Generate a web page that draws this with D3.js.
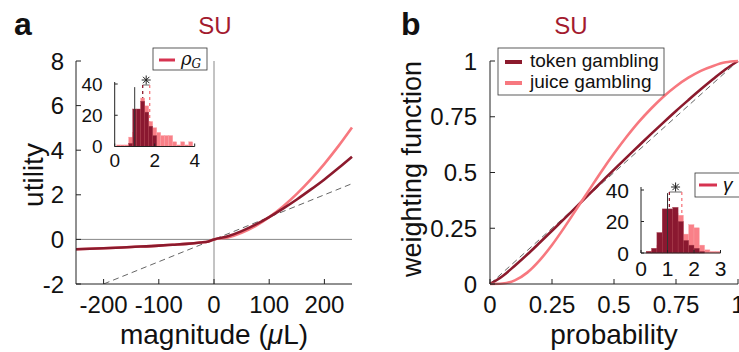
<!DOCTYPE html>
<html><head><meta charset="utf-8">
<script src="https://cdn.jsdelivr.net/npm/d3@7"></script>
<style>body{margin:0;background:#fff} text{font-family:"Liberation Sans",Arial,Helvetica,sans-serif;fill:#111}</style>
</head><body><svg id="c" width="739" height="352"></svg>
<script>
// ---------- data ----------
const magX      = [-250,-200,-150,-100,-75,-50,-25,-10,0,25,50,75,100,125,150,175,200,225,250];
const tokenUtil = [-0.44,-0.40,-0.34,-0.28,-0.24,-0.20,-0.14,-0.09,0,0.14,0.37,0.66,1.0,1.38,1.79,2.23,2.69,3.19,3.71];
const juiceUtil = [-0.44,-0.40,-0.34,-0.28,-0.24,-0.20,-0.14,-0.09,0,0.09,0.30,0.60,1.0,1.48,2.04,2.68,3.39,4.17,5.02];
const linRefX = [-250, 250];
const linRefY = [-2.5, 2.5];
const magTicks = [-200,-100,0,100,200];
const utilTicks = [-2,0,2,4,6,8];

const probX       = [0,0.05,0.1,0.15,0.2,0.25,0.3,0.35,0.4,0.45,0.5,0.55,0.6,0.65,0.7,0.75,0.8,0.85,0.9,0.95,1];
const tokenWeight = [0,0.035,0.082,0.132,0.185,0.239,0.293,0.348,0.403,0.458,0.513,0.567,0.620,0.673,0.725,0.776,0.825,0.873,0.919,0.963,1];
const juiceWeight = [0,0.002,0.016,0.051,0.106,0.175,0.254,0.338,0.422,0.506,0.585,0.659,0.727,0.787,0.841,0.887,0.925,0.956,0.978,0.994,1];
const probTicks = [0,0.25,0.5,0.75,1];
const probTickLabels = ["0","0.25","0.5","0.75","1"];
const weightTicks = [0,0.25,0.5,0.75,1];
const weightTickLabels = ["0","0.25","0.5","0.75","1"];

// inset a: rho_G histograms (bin starts, width 0.2)
const rhoBinStart = [0.1,0.3,0.5,0.7,0.9,1.1,1.3,1.5,1.7,1.9,2.1,2.3,2.5,2.7,2.9,3.1,3.3,3.5,3.7];
const juiceRhoCounts = [1,1,1,6,9,23,31,26,16,12,9,7,7,7,3,1,3,1,3];
const tokenRhoCounts = [0,0,0,2,24,24,29,22,13,7,0,0,0,0,0,0,0,0,0];
const rhoMedians = [1.4, 1.75];
const rhoTicks = [0,2,4];
const countTicks = [0,20,40];

// inset b: gamma histograms (bin starts, width 0.2)
const gammaBinStart = [0.2,0.4,0.6,0.8,1.0,1.2,1.4,1.6,1.8,2.0,2.2,2.4,2.6,2.8];
const juiceGammaCounts = [1,2,5,10,20,25,24,12,18,16,5,2,1,1];
const tokenGammaCounts = [1,3,13,28,28,29,20,8,5,3,1,0,0,0];
const gammaMedians = [1.07, 1.54];
const gammaTicks = [0,1,2,3];

const seriesNames = ["token gambling","juice gambling"];

// ---------- styles ----------
const cTok = "#8c1a2d", cJuice = "#f7787f", cHistDark = "#8a1830", cHistLight = "#f98088", cTitle = "#a31a2e", cLeg = "#d63350";
const svg = d3.select("#c");

function axes(g, x, y, xt, xl, yt, yl, fs, tick, xoff, yoff) {
  const [x0,x1] = x.range(), [y0,y1] = y.range();
  g.append("line").attr("x1",x0).attr("x2",x1).attr("y1",y0).attr("y2",y0).attr("stroke","#222").attr("stroke-width",1);
  g.append("line").attr("x1",x0).attr("x2",x0).attr("y1",y0).attr("y2",y1).attr("stroke","#222").attr("stroke-width",1);
  xt.forEach((v,i)=>{
    g.append("line").attr("x1",x(v)).attr("x2",x(v)).attr("y1",y0).attr("y2",y0-tick).attr("stroke","#222");
    g.append("text").attr("x",x(v)).attr("y",y0+xoff).attr("text-anchor","middle").attr("font-size",fs).text(xl[i]);
  });
  yt.forEach((v,i)=>{
    g.append("line").attr("x1",x0).attr("x2",x0+tick).attr("y1",y(v)).attr("y2",y(v)).attr("stroke","#222");
    g.append("text").attr("x",x0-yoff).attr("y",y(v)).attr("dy","0.36em").attr("text-anchor","end").attr("font-size",fs).text(yl[i]);
  });
}

// ================= Panel a =================
const xa = d3.scaleLinear().domain([-250,250]).range([76,352]);
const ya = d3.scaleLinear().domain([-2,8]).range([284,61]);
const ga = svg.append("g");
ga.append("clipPath").attr("id","clipA").append("rect").attr("x",76).attr("y",61).attr("width",276).attr("height",223);
ga.append("line").attr("x1",xa(0)).attr("x2",xa(0)).attr("y1",ya(8)).attr("y2",ya(-2)).attr("stroke","#888").attr("stroke-width",1);
ga.append("line").attr("x1",xa(-250)).attr("x2",xa(250)).attr("y1",ya(0)).attr("y2",ya(0)).attr("stroke","#888").attr("stroke-width",1);
const lineA = d3.line().x(d=>xa(d[0])).y(d=>ya(d[1])).curve(d3.curveMonotoneX);
ga.append("path").attr("clip-path","url(#clipA)").attr("d",lineA(linRefX.map((v,i)=>[v,linRefY[i]])))
  .attr("fill","none").attr("stroke","#666").attr("stroke-width",1).attr("stroke-dasharray","6,4");
ga.append("path").attr("d",lineA(magX.map((v,i)=>[v,juiceUtil[i]]))).attr("fill","none").attr("stroke",cJuice).attr("stroke-width",2.6);
ga.append("path").attr("d",lineA(magX.map((v,i)=>[v,tokenUtil[i]]))).attr("fill","none").attr("stroke",cTok).attr("stroke-width",2.6);
axes(ga, xa, ya, magTicks, magTicks.map(String), utilTicks, utilTicks.map(String), 24, 5, 29, 12);
ga.append("text").attr("x",214).attr("y",344).attr("text-anchor","middle").attr("font-size",28)
  .html('magnitude (<tspan font-style="italic">μ</tspan>L)');
ga.append("text").attr("transform","translate(43,175) rotate(-90)").attr("text-anchor","middle").attr("font-size",28).text("utility");
ga.append("text").attr("x",215).attr("y",34).attr("text-anchor","middle").attr("font-size",24).style("fill",cTitle).text("SU");
ga.append("text").attr("x",14).attr("y",35).attr("font-size",32).attr("font-weight","bold").text("a");

// inset
function inset(g, x, y, bins, light, dark, meds, xt, axisTop, fs, starY) {
  const bw = 0.2;
  const base = y(0);
  g.append("line").attr("x1",x(meds[0])).attr("x2",x(meds[1])).attr("y1",starY+5).attr("y2",starY+5).attr("stroke","#444").attr("stroke-width",0.8);
  [[meds[0],cTok],[meds[1],cJuice]].forEach(([m,c])=>{
    g.append("line").attr("x1",x(m)).attr("x2",x(m)).attr("y1",starY+5).attr("y2",base)
      .attr("stroke",c).attr("stroke-width",1.3).attr("stroke-dasharray","3,3");
  });
  bins.forEach((b,i)=>{ if(light[i]>0) g.append("rect").attr("x",x(b)).attr("width",x(b+bw)-x(b)).attr("y",y(light[i])).attr("height",base-y(light[i])).attr("fill",cHistLight).attr("stroke","#fba0a6").attr("stroke-width",0.4); });
  bins.forEach((b,i)=>{ if(dark[i]>0) g.append("rect").attr("x",x(b)).attr("width",x(b+bw)-x(b)).attr("y",y(dark[i])).attr("height",base-y(dark[i])).attr("fill",cHistDark).attr("stroke","#a8404f").attr("stroke-width",0.4); });
  g.append("line").attr("x1",x(1)).attr("x2",x(1)).attr("y1",base).attr("y2",y(38)).attr("stroke","#333").attr("stroke-width",1);
  const cx = (x(meds[0])+x(meds[1]))/2;
  [0,45,90,135].forEach(a=>{
    const r=4.5, dx=r*Math.cos(a*Math.PI/180), dy=r*Math.sin(a*Math.PI/180);
    g.append("line").attr("x1",cx-dx).attr("x2",cx+dx).attr("y1",starY-dy).attr("y2",starY+dy).attr("stroke","#222").attr("stroke-width",1);
  });
  const [x0,x1] = x.range();
  g.append("line").attr("x1",x0).attr("x2",x1).attr("y1",base).attr("y2",base).attr("stroke","#222");
  g.append("line").attr("x1",x0).attr("x2",x0).attr("y1",base).attr("y2",axisTop).attr("stroke","#222");
  xt.forEach(v=>{
    g.append("line").attr("x1",x(v)).attr("x2",x(v)).attr("y1",base).attr("y2",base-3).attr("stroke","#222");
    g.append("text").attr("x",x(v)).attr("y",base+fs*1.1).attr("text-anchor","middle").attr("font-size",fs).text(v);
  });
  countTicks.forEach(v=>{
    g.append("line").attr("x1",x0).attr("x2",x0+3).attr("y1",y(v)).attr("y2",y(v)).attr("stroke","#222");
    g.append("text").attr("x",x0-12).attr("y",y(v)).attr("dy","0.36em").attr("text-anchor","end").attr("font-size",fs).text(v);
  });
}
const xia = d3.scaleLinear().domain([0,4]).range([114.7,194.7]);
const yia = d3.scaleLinear().domain([0,40]).range([146.5,84]);
inset(ga.append("g"), xia, yia, rhoBinStart, juiceRhoCounts, tokenRhoCounts, rhoMedians, rhoTicks, 82, 19, 80);
ga.append("rect").attr("x",153).attr("y",48).attr("width",54).attr("height",22).attr("fill","#fff").attr("stroke","#333").attr("stroke-width",0.8);
ga.append("line").attr("x1",159).attr("x2",175).attr("y1",60).attr("y2",60).attr("stroke",cLeg).attr("stroke-width",3);
ga.append("text").attr("x",181).attr("y",65).attr("font-size",18)
  .html('<tspan font-style="italic" font-family="DejaVu Serif">ρ</tspan><tspan font-style="italic" font-family="DejaVu Serif" font-size="12" dy="3">G</tspan>');

// ================= Panel b =================
const xb = d3.scaleLinear().domain([0,1]).range([490,738]);
const yb = d3.scaleLinear().domain([0,1]).range([284,61]);
const gb = svg.append("g");
const lineB = d3.line().x(d=>xb(d[0])).y(d=>yb(d[1])).curve(d3.curveMonotoneX);
gb.append("path").attr("d",lineB([[0,0],[1,1]])).attr("fill","none").attr("stroke","#666").attr("stroke-width",1).attr("stroke-dasharray","6,4");
gb.append("path").attr("d",lineB(probX.map((v,i)=>[v,tokenWeight[i]]))).attr("fill","none").attr("stroke",cTok).attr("stroke-width",2.6);
gb.append("path").attr("d",lineB(probX.map((v,i)=>[v,juiceWeight[i]]))).attr("fill","none").attr("stroke",cJuice).attr("stroke-width",2.6);
axes(gb, xb, yb, probTicks, probTickLabels, weightTicks, weightTickLabels, 24, 5, 29, 13);
gb.append("text").attr("x",614).attr("y",344).attr("text-anchor","middle").attr("font-size",28).text("probability");
gb.append("text").attr("transform","translate(421,169) rotate(-90)").attr("text-anchor","middle").attr("font-size",27).text("weighting function");
gb.append("text").attr("x",571).attr("y",34).attr("text-anchor","middle").attr("font-size",24).style("fill",cTitle).text("SU");
gb.append("text").attr("x",401).attr("y",35).attr("font-size",32).attr("font-weight","bold").text("b");
gb.append("rect").attr("x",498).attr("y",48).attr("width",166).attr("height",47).attr("fill","#fff").attr("stroke","#333").attr("stroke-width",0.8);
[[cTok,62,67],[cJuice,83,88]].forEach(([c,ly,ty],i)=>{
  gb.append("line").attr("x1",505).attr("x2",522).attr("y1",ly).attr("y2",ly).attr("stroke",c).attr("stroke-width",4);
  gb.append("text").attr("x",530).attr("y",ty).attr("font-size",19).text(seriesNames[i]);
});
const xib = d3.scaleLinear().domain([0,3]).range([641,720.5]);
const yib = d3.scaleLinear().domain([0,40]).range([253,190]);
inset(gb.append("g"), xib, yib, gammaBinStart, juiceGammaCounts, tokenGammaCounts, gammaMedians, gammaTicks, 187, 21, 187);
gb.append("rect").attr("x",695).attr("y",173).attr("width",60).attr("height",24).attr("fill","#fff").attr("stroke","#333").attr("stroke-width",0.8);
gb.append("line").attr("x1",699).attr("x2",717).attr("y1",185).attr("y2",185).attr("stroke",cLeg).attr("stroke-width",3);
gb.append("text").attr("x",723).attr("y",191).attr("font-size",19).attr("font-style","italic").attr("font-family","DejaVu Serif").text("γ");
</script></body></html>
